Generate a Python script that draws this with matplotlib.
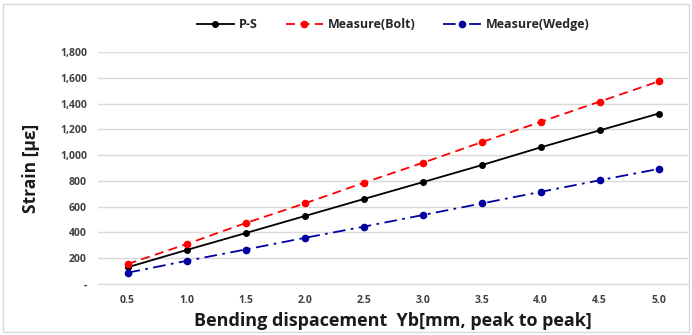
import matplotlib.pyplot as plt
from matplotlib.ticker import FuncFormatter
from matplotlib.patches import Rectangle

categories = ['0.5', '1.0', '1.5', '2.0', '2.5', '3.0', '3.5', '4.0', '4.5', '5.0']
ps = [130, 264, 395, 527, 659, 790, 922, 1060, 1192, 1322]
bolt = [155, 310, 473, 625, 785, 940, 1100, 1258, 1415, 1572]
wedge = [88, 180, 268, 358, 445, 535, 625, 715, 805, 893]

plt.rcParams['font.family'] = ['Open Sans', 'DejaVu Sans']

fig = plt.figure(figsize=(6.92, 3.35), dpi=100)
ax = fig.add_axes([0.1416, 0.152, 0.853, 0.693])

x = range(len(categories))
ax.plot(x, ps, color='black', linestyle='-', linewidth=1.3, marker='o', markersize=4, label='P-S')
ax.plot(x, bolt, color='#ff0000', linestyle=(0, (5, 3)), linewidth=1.3, marker='o', markersize=4.5, label='Measure(Bolt)')
ax.plot(x, wedge, color='#0000a0', linestyle=(0, (7, 3, 1.5, 3)), linewidth=1.3, marker='o', markersize=4.5, label='Measure(Wedge)')

ax.set_xlim(-0.5, len(categories) - 0.5)
ax.set_ylim(0, 1800)
ax.set_yticks(range(0, 1801, 200))
ax.yaxis.set_major_formatter(FuncFormatter(lambda v, p: '-' if v == 0 else f'{int(v):,}'))
ax.set_xticks(list(x))
ax.set_xticklabels(categories)

ax.grid(axis='y', color='#d9d9d9', linewidth=1)
ax.set_axisbelow(True)
for s in ['top', 'right', 'left']:
    ax.spines[s].set_visible(False)
ax.spines['bottom'].set_color('#d9d9d9')
ax.tick_params(length=0, labelsize=7.5, labelcolor='#404040', pad=8)
for lbl in ax.get_xticklabels() + ax.get_yticklabels():
    lbl.set_fontweight('bold')

ax.set_xlabel('Bending dispacement  Yb[mm, peak to peak]', fontsize=13, fontweight='bold', color='#1a1a1a', labelpad=4)
ax.set_ylabel('Strain [με]', fontsize=12.5, fontweight='bold', color='#1a1a1a', labelpad=14)

leg = ax.legend(loc='lower center', bbox_to_anchor=(0.5, 1.04), ncol=3, frameon=False,
                prop={'weight': 'bold', 'size': 9}, handlelength=3.0, columnspacing=2.2, handletextpad=0.4)
for t in leg.get_texts():
    t.set_color('#262626')

fig.patches.append(Rectangle((0.004, 0.01), 0.992, 0.978, transform=fig.transFigure,
                             fill=False, edgecolor='#d9d9d9', linewidth=1))

fig.savefig('out.png', dpi=100)
